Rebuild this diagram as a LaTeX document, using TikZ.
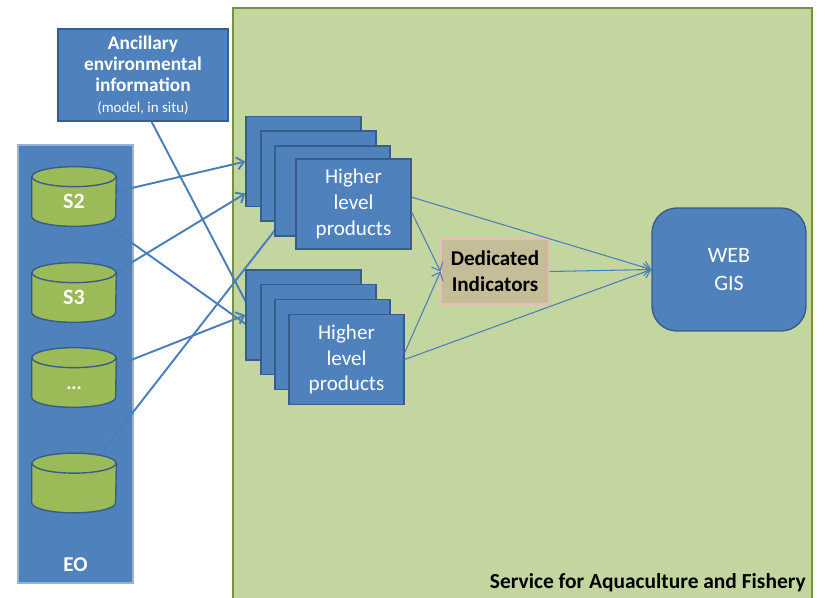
\documentclass[tikz,border=0pt]{standalone}
\usepackage{fontspec}
\setmainfont{Carlito}
\usetikzlibrary{arrows.meta,calc}

\definecolor{boxblue}{RGB}{79,129,189}
\definecolor{boxedge}{RGB}{56,93,138}
\definecolor{lineblue}{RGB}{74,126,187}
\definecolor{cylgreen}{RGB}{155,187,89}
\definecolor{svcgreen}{RGB}{196,214,160}
\definecolor{svcedge}{RGB}{118,146,60}
\definecolor{indtan}{RGB}{196,189,151}
\definecolor{indedge}{RGB}{230,190,185}
\definecolor{eoedge}{RGB}{149,179,215}

\pgfdeclarelayer{back}
\pgfdeclarelayer{links}
\pgfsetlayers{back,links,main}

\tikzset{
  prod/.style={draw=boxedge, fill=boxblue, line width=0.8pt, minimum width=2.3cm,
    minimum height=1.8cm, inner sep=0pt, text=white, align=center,
    font=\fontsize{12}{14.6}\selectfont},
  cyl/.style={minimum width=1.68cm, minimum height=0.98cm, inner sep=0pt,
    text=white, font=\fontsize{12.5}{14}\selectfont\bfseries},
  link/.style={draw=lineblue, line width=1.1pt, -{Straight Barb[length=4pt,width=7pt]}},
  thinlink/.style={draw=lineblue, line width=0.6pt, -{Straight Barb[length=4pt,width=7pt]}}
}

\begin{document}
\begin{tikzpicture}[x=0.02cm, y=-0.02cm]
  \useasboundingbox (0,0) rectangle (825,598);

  \begin{pgfonlayer}{back}
    \draw[svcedge, fill=svcgreen, line width=1.2pt] (233,8) rectangle (812,640);
    \node (eo) [draw=eoedge, fill=boxblue, line width=0.8pt, minimum width=2.3cm,
      minimum height=8.76cm] at (75.5,364) {};
    \node (anc) [draw=boxedge, fill=boxblue, line width=0.8pt, minimum width=3.4cm,
      minimum height=1.84cm, inner sep=0pt, text=white, align=center] at (143,75)
      {\fontsize{11}{13.3}\selectfont\bfseries Ancillary\\
       \fontsize{11}{13.3}\selectfont\bfseries environmental\\
       \fontsize{11}{13.3}\selectfont\bfseries information\\
       \fontsize{8.5}{10}\selectfont (model, in situ)};
  \end{pgfonlayer}

  \node (eotxt) [text=white, font=\fontsize{12}{14}\selectfont\bfseries] at (75.5,565) {EO};

  % EO data
  \node (s2) [cyl] at (74,201.5) {};
  \node (s3) [cyl] at (74,297.5) {};
  \node (dots) [cyl] at (74,382.5) {};
  \node (c4) [cyl] at (74,488) {};
  \foreach \c in {s2,s3,dots,c4}{
    \draw[boxedge, fill=cylgreen, line width=0.8pt] (\c.north west)
      -- ($(\c.south west)-(0,10)$) arc[start angle=180, end angle=360, x radius=0.84cm, y radius=0.2cm]
      -- (\c.north east) -- cycle;
    \draw[boxedge, fill=cylgreen, line width=0.8pt] (\c.north) ellipse[x radius=0.84cm, y radius=0.2cm];
  }
  \node (s2txt) [cyl] at (s2) {S2};
  \node (s3txt) [cyl] at (s3) {S3};
  \node (dotstxt) [cyl, font=\fontsize{11}{13}\selectfont\bfseries] at ($(dots)+(0,6)$) {...};

  % product stacks
  \node (t1) [prod] at (303.5,161.5) {};
  \node (t2) [prod] at (318.5,176) {};
  \node (t3) [prod] at (332.5,191) {};
  \node (t4) [prod] at (353.5,204) {Higher\\level\\products};
  \node (b1) [prod] at (303.5,315) {};
  \node (b2) [prod] at (318.5,329.5) {};
  \node (b3) [prod] at (332.5,344.5) {};
  \node (b4) [prod] at (346.5,359.5) {Higher\\level\\products};

  \node (ded) [draw=indedge, fill=indtan, line width=0.6pt, minimum width=2.16cm,
    minimum height=1.3cm, inner sep=0pt, align=center,
    font=\fontsize{12}{15}\selectfont\bfseries] at (495,271.5) {Dedicated\\Indicators};
  \node (web) [draw=boxedge, fill=boxblue, line width=0.8pt, rounded corners=0.5cm,
    minimum width=3.08cm, minimum height=2.46cm, inner sep=0pt, text=white, align=center,
    font=\fontsize{12.5}{16}\selectfont] at (729,269.5) {WEB\\GIS};

  \node (svctxt) [anchor=south east, inner sep=0pt,
    font=\fontsize{12.2}{14}\selectfont\bfseries] at (806,592) {Service for Aquaculture and Fishery};

  \begin{pgfonlayer}{links}
    \draw[link] (s2) -- (t1.west);
    \draw[link] (s2) -- (b3.west);
    \draw[link] (s3) -- ($(t1.west)!0.7!(t1.south west)$);
    \draw[link] (dots) -- (b1.west);
    \draw[link] (c4) -- (t4.west);
    \draw[link] ($(anc.south)!0.1!(anc.south east)$) -- (b2.west);
  \end{pgfonlayer}

  \draw[thinlink] ($(t4.east)!0.15!(t4.north east)$) -- (web.west);
  \draw[thinlink] ($(t4.east)!0.18!(t4.south east)$) -- (ded.west);
  \draw[thinlink] ($(b4.east)!0.15!(b4.north east)$) -- (ded.west);
  \draw[thinlink] (b4.east) -- (web.west);
  \draw[thinlink] (ded.east) -- (web.west);
\end{tikzpicture}
\end{document}
